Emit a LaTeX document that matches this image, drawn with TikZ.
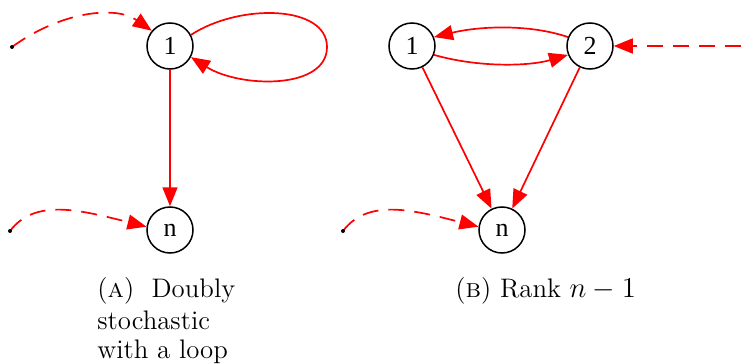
\documentclass[tikz,border=0pt]{standalone}
\usepackage{fontspec}
\newfontfamily\nodefont{Liberation Serif}
\usetikzlibrary{arrows.meta}
\begin{document}
\begin{tikzpicture}[x=0.5pt,y=-0.5pt,
  vtx/.style={circle,draw=black,line width=0.75pt,minimum size=23pt,inner sep=0pt,font=\nodefont\fontsize{13}{15}\selectfont},
  redge/.style={draw=red,line width=0.85pt,-{Triangle[length=9.5pt,width=7.5pt]}},
  dedge/.style={redge,dash pattern=on 8pt off 5pt},
  dotpt/.style={circle,fill=black,inner sep=0pt,minimum size=2pt},
  captxt/.style={anchor=base west,inner sep=0pt,font=\fontsize{13.4}{16}\selectfont}]
\useasboundingbox (0,0) rectangle (741,364);
% left graph
\node[vtx] (a1) at (170,46) {1};
\node[vtx] (an) at (170,230) {n};
\coordinate (as1) at (12,47);
\coordinate (as2) at (10,231);
\draw[dedge] (as1) .. controls (60,12) and (115,5) .. (a1.140);
\draw[dedge] (as2) .. controls (35,198) and (80,210) .. (an.172);
\node[dotpt] at (as1) {};
\node[dotpt] at (as2) {};
\draw[draw=red,line width=0.85pt] (a1.28) .. controls (240,3) and (327,5) .. (327,47);
\draw[redge] (327,47) .. controls (327,90) and (240,88) .. (a1.-28);
\draw[redge] (a1) -- (an);
% right graph
\node[vtx] (b1) at (412,46) {1};
\node[vtx] (b2) at (590,46) {2};
\node[vtx] (bn) at (502,230) {n};
\coordinate (bs1) at (343,231);
\coordinate (bs2) at (741,46);
\draw[dedge] (bs1) .. controls (368,198) and (413,210) .. (bn.172);
\node[dotpt] at (bs1) {};
\draw[dedge] (bs2) -- (b2);
\draw[redge] (b2.158) .. controls (530,24) and (480,26) .. (b1.22);
\draw[redge] (b1.-22) .. controls (480,68) and (530,66) .. (b2.-158);
\draw[redge] (b1) -- (bn);
\draw[redge] (b2) -- (bn);
% captions
\node[captxt] (ca1) at (97,298) {(\textsc{a})\ \ Doubly};
\node[captxt] (ca2) at (97,329) {stochastic};
\node[captxt] (ca3) at (97,358) {with a loop};
\node[captxt] (cb) at (455,298) {(\textsc{b}) Rank $n-1$};
\end{tikzpicture}
\end{document}
